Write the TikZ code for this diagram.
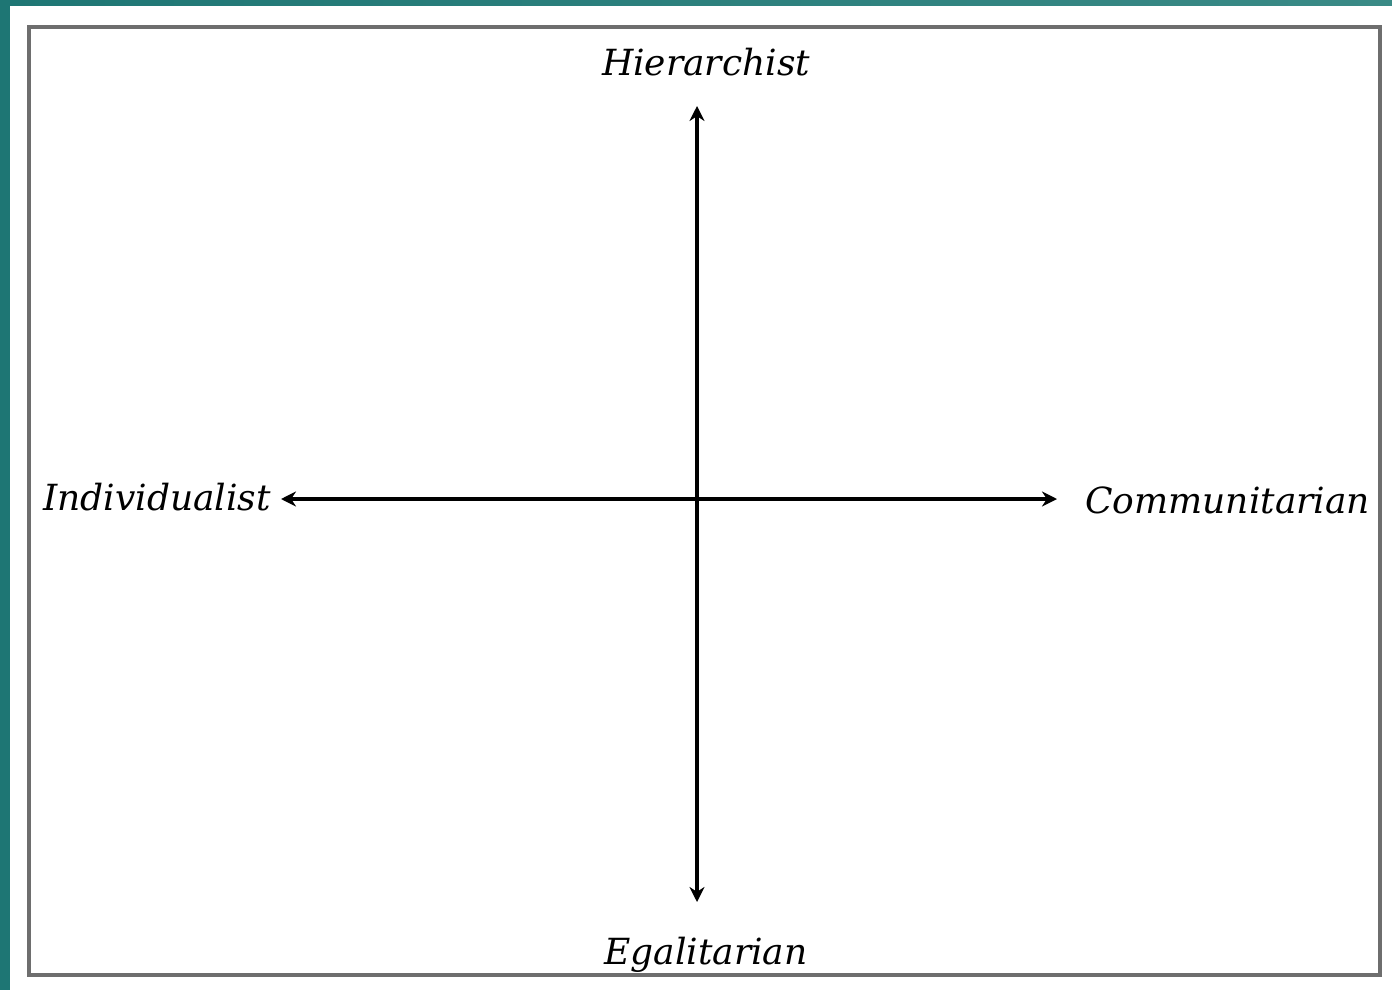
\documentclass[tikz,border=0pt]{standalone}
\usepackage{fontspec}
\setmainfont{DejaVu Serif}
\usetikzlibrary{arrows.meta}
\definecolor{teal1}{RGB}{30,118,116}
\definecolor{teal2}{RGB}{58,138,134}
\definecolor{boxgray}{RGB}{110,110,110}
\tikzset{
  axis/.style={line width=3.5pt, black, {Stealth[length=15pt,width=15pt]}-{Stealth[length=15pt,width=15pt]}},
  lbl/.style={font=\fontsize{36}{42}\selectfont\itshape, inner sep=0pt},
}
\begin{document}
\begin{tikzpicture}[x=1pt,y=-1pt]
\useasboundingbox (0,0) rectangle (1392,990);
\shade[left color=teal1, right color=teal2] (0,0) rectangle (1392,990);
\fill[white] (10,6) rectangle (1392,990);
\draw[boxgray, line width=4pt] (29,27) rectangle (1380,975);
\coordinate (top) at (697,106);
\coordinate (bot) at (697,902);
\coordinate (lft) at (281,499);
\coordinate (rgt) at (1057,499);
\draw[axis] (bot) -- (top);
\draw[axis] (lft) -- (rgt);
\node[lbl] (h) at (706,62) {Hierarchist};
\node[lbl] (e) at (706,955) {Egalitarian};
\node[lbl, anchor=east] (i) at (271,497) {Individualist};
\node[lbl, anchor=west] (c) at (1085,500) {Communitarian};
\end{tikzpicture}
\end{document}
